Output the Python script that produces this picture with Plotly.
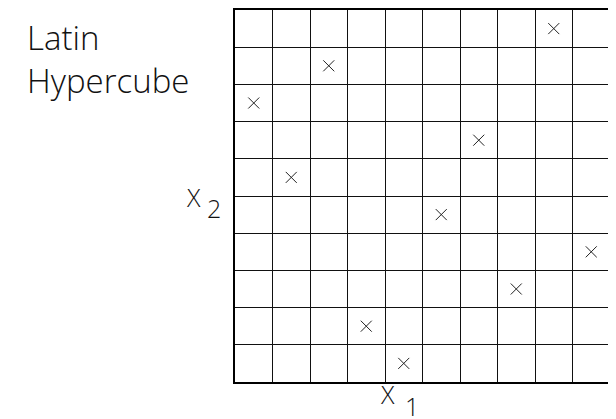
import plotly.graph_objects as go

# Latin hypercube sample: column index (x1 bin) and row index (x2 bin)
col_bins = [8, 2, 0, 6, 1, 5, 9, 7, 3, 4]
row_bins = [9, 8, 7, 6, 5, 4, 3, 2, 1, 0]
n_bins = 10
title_lines = ["Latin", "Hypercube"]
x_label = ("X", "1")
y_label = ("X", "2")

xs = [c + 0.5 for c in col_bins]
ys = [r + 0.5 for r in row_bins]

fig = go.Figure()
fig.add_trace(go.Scatter(
    x=xs, y=ys, mode="markers",
    marker=dict(symbol="x-thin", size=11, line=dict(width=1, color="#222")),
    hoverinfo="skip", showlegend=False,
))

axis_common = dict(
    range=[0, n_bins], dtick=1, tick0=0, showgrid=True, gridcolor="#111",
    gridwidth=1, showticklabels=False, ticks="", zeroline=False,
    showline=True, linecolor="#000", linewidth=2, mirror=True, fixedrange=True,
)
fig.update_xaxes(**axis_common)
fig.update_yaxes(**axis_common)

font_fam = "Open Sans"
txt_color = "#111"

def lbl(text, x, y, size):
    fig.add_annotation(
        text=text, xref="paper", yref="paper", x=x, y=y,
        xanchor="left", yanchor="middle", showarrow=False,
        font=dict(family=font_fam, size=size, color=txt_color, weight=300),
    )

fig.add_annotation(
    text="<br>".join(title_lines), xref="paper", yref="paper",
    x=-0.56, y=0.992, xanchor="left", yanchor="top", align="left",
    showarrow=False, font=dict(family=font_fam, size=33, color=txt_color, weight=300),
)
lbl(y_label[0], -0.136, 0.4963, 25)
lbl(y_label[1], -0.08, 0.4668, 25)
lbl(x_label[0], 0.382, -0.0332, 25)
lbl(x_label[1], 0.448, -0.0652, 25)

fig.update_layout(
    width=608, height=411,
    margin=dict(l=227, r=6, t=0, b=37),
    plot_bgcolor="white", paper_bgcolor="white",
)
fig.write_html("out.html")
